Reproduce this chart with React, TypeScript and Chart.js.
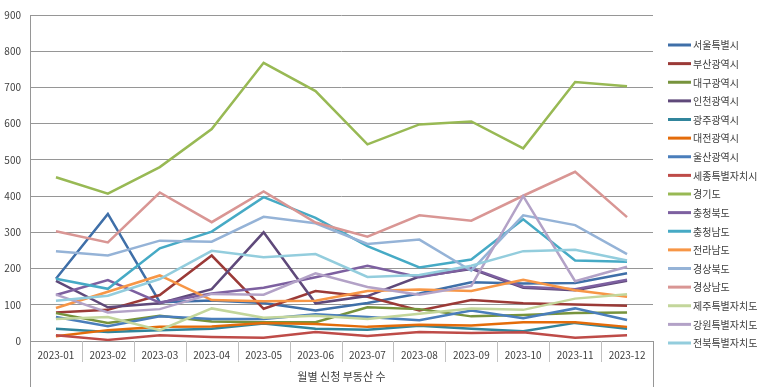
import React, { useEffect, useRef } from "react";
import { Chart, registerables } from "chart.js";

Chart.register(...registerables);

const months = ["2023-01", "2023-02", "2023-03", "2023-04", "2023-05", "2023-06", "2023-07", "2023-08", "2023-09", "2023-10", "2023-11", "2023-12"];
const yTicks = [0, 100, 200, 300, 400, 500, 600, 700, 800, 900];
const axisTitle = "월별 신청 부동산 수";

const seoul = [172, 351, 107, 112, 105, 84, 105, 131, 162, 159, 160, 187];
const busan = [79, 86, 127, 236, 89, 138, 122, 84, 113, 104, 101, 97];
const daegu = [77, 50, 70, 54, 52, 52, 93, 88, 68, 72, 77, 79];
const incheon = [166, 93, 104, 143, 300, 104, 124, 178, 199, 147, 140, 166];
const gwangju = [34, 25, 30, 34, 48, 34, 31, 42, 34, 27, 50, 34];
const daejeon = [13, 30, 39, 40, 50, 47, 39, 45, 43, 52, 52, 39];
const ulsan = [66, 41, 68, 61, 61, 74, 66, 57, 84, 63, 90, 58];
const sejong = [16, 3, 16, 11, 9, 25, 14, 25, 22, 24, 9, 16];
const gyeonggi = [452, 407, 480, 585, 768, 690, 543, 598, 606, 532, 715, 703];
const chungbuk = [127, 168, 106, 131, 147, 176, 208, 176, 201, 150, 143, 169];
const chungnam = [172, 144, 256, 302, 397, 340, 262, 203, 225, 336, 222, 219];
const jeonnam = [91, 136, 181, 113, 110, 111, 138, 142, 138, 169, 140, 122];
const gyeongbuk = [248, 236, 277, 274, 343, 325, 268, 280, 194, 347, 320, 240];
const gyeongnam = [303, 272, 410, 328, 413, 327, 288, 347, 332, 401, 467, 342];
const jeju = [61, 66, 30, 90, 64, 70, 61, 75, 90, 86, 117, 129];
const gangwon = [128, 79, 88, 130, 128, 187, 149, 128, 152, 400, 165, 205];
const jeonbuk = [111, 125, 171, 249, 231, 240, 177, 182, 208, 248, 252, 222];

const seriesNames = ["서울특별시", "부산광역시", "대구광역시", "인천광역시", "광주광역시", "대전광역시", "울산광역시", "세종특별자치시", "경기도", "충청북도", "충청남도", "전라남도", "경상북도", "경상남도", "제주특별자치도", "강원특별자치도", "전북특별자치도"];
const seriesValues = [seoul, busan, daegu, incheon, gwangju, daejeon, ulsan, sejong, gyeonggi, chungbuk, chungnam, jeonnam, gyeongbuk, gyeongnam, jeju, gangwon, jeonbuk];
const seriesColors = ["#3F6FA8", "#9B3A37", "#77933C", "#5F497A", "#31859C", "#E46C0A", "#4A7EBB", "#BE4B48", "#98B954", "#7D60A0", "#46AAC5", "#F79646", "#95B3D7", "#D99694", "#C3D69B", "#B3A2C7", "#93CDDD"];

const FONT = "'Noto Sans CJK KR', 'Noto Sans', sans-serif";
const TEXT = "#404040";

const framePlugin = {
  id: "frame",
  afterDraw(chart: any) {
    const ctx = chart.ctx;
    const area = chart.chartArea;
    const xs = chart.scales.x;
    const bottomEnd = 387;
    ctx.save();
    // left axis line, extended below
    ctx.strokeStyle = "#969696";
    ctx.lineWidth = 1;
    ctx.beginPath();
    const lx = Math.round(area.left) + 0.5;
    ctx.moveTo(lx, area.top);
    ctx.lineTo(lx, bottomEnd);
    const rx = Math.round(area.right) + 0.5;
    ctx.moveTo(rx, area.bottom);
    ctx.lineTo(rx, bottomEnd);
    ctx.stroke();
    // category separators
    ctx.strokeStyle = "#bfbfbf";
    ctx.beginPath();
    const n = months.length;
    const w = (area.right - area.left) / n;
    for (let k = 1; k < n; k++) {
      const x = Math.round(area.left + k * w) + 0.5;
      ctx.moveTo(x, area.bottom);
      ctx.lineTo(x, area.bottom + 21);
    }
    ctx.stroke();
    // category labels
    ctx.fillStyle = TEXT;
    ctx.font = `10px ${FONT}`;
    ctx.textAlign = "center";
    ctx.textBaseline = "middle";
    months.forEach((m, i) => {
      ctx.fillText(m, xs.getPixelForValue(i), area.bottom + 14.5);
    });
    // axis title
    ctx.font = `11px ${FONT}`;
    ctx.fillText(axisTitle, (area.left + area.right) / 2, 377);
    // legend
    ctx.textAlign = "left";
    ctx.font = `10px ${FONT}`;
    chart.data.datasets.forEach((ds: any, i: number) => {
      const y = 45 + i * 18.625;
      ctx.strokeStyle = ds.borderColor;
      ctx.lineWidth = 3;
      ctx.beginPath();
      ctx.moveTo(668, y);
      ctx.lineTo(691, y);
      ctx.stroke();
      ctx.fillStyle = TEXT;
      ctx.fillText(ds.label, 693, y + 0.5);
    });
    ctx.restore();
  },
};

export default function App() {
  const ref = useRef<HTMLCanvasElement | null>(null);
  useEffect(() => {
    if (!ref.current) return;
    const n = seriesNames.length;
    const chart = new Chart(ref.current, {
      type: "line",
      data: {
        labels: months,
        datasets: seriesNames.map((name, i) => ({
          label: name,
          data: seriesValues[i],
          borderColor: seriesColors[i],
          backgroundColor: seriesColors[i],
          borderWidth: 2.5,
          pointRadius: 0,
          tension: 0,
          fill: false,
          order: n - i,
        })),
      },
      options: {
        animation: false,
        responsive: false,
        layout: { padding: { left: 0, right: 120, top: 8, bottom: 0 } },
        plugins: { legend: { display: false }, tooltip: { enabled: false } },
        scales: {
          x: {
            type: "category",
            offset: true,
            grid: { display: false },
            border: { display: false },
            ticks: { display: false },
            afterFit: (s: any) => { s.height = 50; },
          },
          y: {
            min: yTicks[0],
            max: yTicks[yTicks.length - 1],
            afterBuildTicks: (s: any) => { s.ticks = yTicks.map((v) => ({ value: v })); },
            ticks: { padding: 9, color: TEXT, font: { family: FONT, size: 10 } },
            grid: { color: "#969696", drawTicks: false, lineWidth: 1 },
            border: { display: false },
            afterFit: (s: any) => { s.width = 30; },
          },
        },
      },
      plugins: [framePlugin],
    });
    return () => chart.destroy();
  }, []);
  return (
    <div style={{ position: "fixed", left: 0, top: 0, width: 773, height: 391, background: "#fff" }}>
      <canvas ref={ref} width={773} height={391} style={{ width: 773, height: 391, display: "block" }} />
    </div>
  );
}
